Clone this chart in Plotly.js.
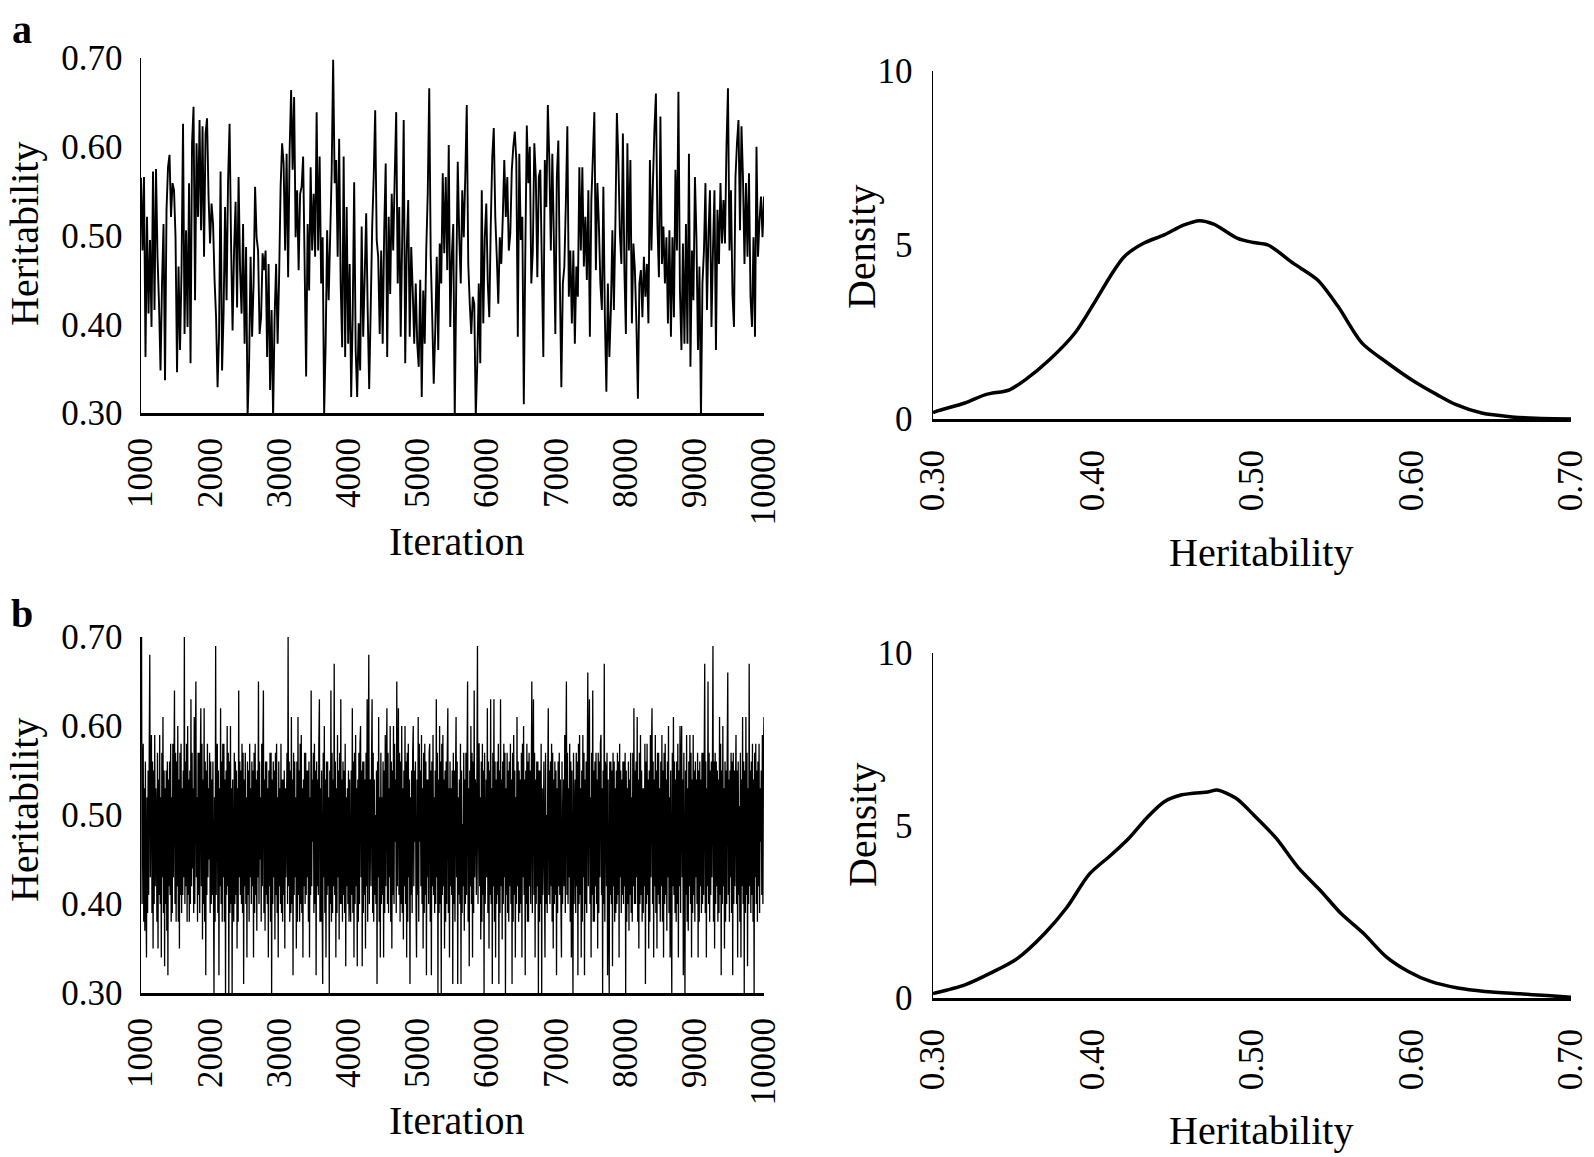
<!DOCTYPE html>
<html>
<head>
<meta charset="utf-8">
<script src="https://cdn.plot.ly/plotly-3.0.1.min.js"></script>
<style>html,body{margin:0;padding:0;background:#fff;}#chart{width:1594px;height:1157px;}</style>
</head>
<body>
<div id="chart"></div>
<script>
// ---- Data ----
const iterTicks = [1000, 2000, 3000, 4000, 5000, 6000, 7000, 8000, 9000, 10000];
const heritTicks = [0.30, 0.40, 0.50, 0.60, 0.70];
const heritTickText = ['0.30', '0.40', '0.50', '0.60', '0.70'];
const densityTicks = [0, 5, 10];
const iterStart = 1000;
const iterEnd = 10000;

// Panel a: MCMC trace of heritability
const traceA = [0.565,0.483,0.566,0.363,0.521,0.412,0.495,0.397,0.572,0.416,0.575,0.476,0.423,0.348,0.446,0.513,0.337,0.529,0.577,0.591,0.521,0.559,0.551,0.498,0.346,0.465,0.371,0.461,0.626,0.389,0.506,0.397,0.559,0.356,0.604,0.645,0.427,0.604,0.521,0.630,0.506,0.623,0.476,0.615,0.632,0.544,0.491,0.536,0.513,0.450,0.408,0.329,0.389,0.572,0.348,0.412,0.532,0.427,0.562,0.626,0.491,0.393,0.483,0.538,0.419,0.566,0.461,0.412,0.513,0.378,0.487,0.295,0.356,0.476,0.386,0.446,0.555,0.498,0.483,0.389,0.408,0.480,0.461,0.483,0.363,0.468,0.326,0.416,0.295,0.408,0.468,0.378,0.453,0.555,0.604,0.581,0.483,0.592,0.453,0.596,0.664,0.574,0.656,0.498,0.551,0.461,0.547,0.555,0.589,0.468,0.341,0.513,0.438,0.577,0.483,0.547,0.476,0.639,0.483,0.589,0.446,0.498,0.299,0.378,0.506,0.427,0.498,0.570,0.698,0.559,
0.585,0.476,0.609,0.446,0.374,0.589,0.363,0.532,0.378,0.468,0.318,0.408,0.560,0.371,0.318,0.401,0.348,0.510,0.386,0.453,0.525,0.416,0.327,0.416,0.510,0.566,0.641,0.495,0.476,0.389,0.483,0.378,0.506,0.581,0.363,0.521,0.434,0.547,0.483,0.566,0.639,0.446,0.532,0.386,0.498,0.630,0.356,0.483,0.540,0.386,0.487,0.438,0.378,0.446,0.378,0.352,0.450,0.318,0.438,0.378,0.483,0.547,0.666,0.476,0.408,0.333,0.393,0.476,0.371,0.491,0.446,0.570,0.480,0.566,0.461,0.602,0.397,0.476,0.513,0.295,0.446,0.583,0.498,0.446,0.551,0.498,0.566,0.647,0.468,0.423,0.389,0.431,0.423,0.295,0.356,0.446,0.356,0.551,0.401,0.498,0.536,0.446,0.408,0.513,0.589,0.621,0.521,0.476,0.423,0.498,0.468,0.521,0.585,0.521,0.566,0.483,0.502,0.574,0.600,0.617,0.585,0.386,0.592,0.495,0.521,0.310,0.480,0.624,0.559,0.600,0.446,0.483,0.604,0.566,0.453,0.566,0.574,0.468,0.363,0.585,0.532,0.647,0.585,
0.483,0.592,0.498,0.389,0.566,0.607,0.450,0.329,0.446,0.465,0.536,0.623,0.431,0.483,0.401,0.483,0.378,0.465,0.431,0.577,0.483,0.577,0.465,0.521,0.450,0.551,0.386,0.540,0.589,0.639,0.461,0.559,0.513,0.446,0.416,0.555,0.408,0.324,0.446,0.363,0.416,0.506,0.416,0.513,0.638,0.585,0.502,0.468,0.615,0.461,0.389,0.604,0.483,0.585,0.401,0.491,0.461,0.401,0.316,0.446,0.461,0.408,0.476,0.431,0.468,0.401,0.585,0.483,0.559,0.619,0.660,0.513,0.453,0.634,0.468,0.510,0.446,0.498,0.401,0.506,0.386,0.498,0.408,0.574,0.483,0.662,0.438,0.371,0.491,0.378,0.513,0.378,0.592,0.352,0.483,0.427,0.566,0.498,0.371,0.465,0.295,0.446,0.483,0.559,0.416,0.502,0.551,0.397,0.483,0.551,0.371,0.529,0.468,0.559,0.491,0.540,0.491,0.600,0.666,0.483,0.551,0.434,0.397,0.566,0.604,0.630,0.506,0.623,0.566,0.468,0.559,0.476,0.570,0.431,0.397,0.498,0.386,0.600,0.476,0.517,0.544,0.498,0.544];

// Panel b: MCMC trace of heritability (spikes, plus the dense core of the band)
const traceB = [0.58,
0.70,0.40,0.55,0.58,0.38,0.53,0.37,0.56,0.42,0.34,0.52,0.39,0.55,0.41,0.57,0.68,0.43,0.54,0.59,0.39,0.56,0.35,0.55,0.40,0.59,0.42,0.53,0.49,0.38,0.57,0.35,0.54,0.41,0.59,0.40,0.52,0.34,0.57,0.43,0.61,0.39,0.55,0.33,0.53,0.40,0.55,0.37,0.56,0.32,0.54,0.42,0.56,0.41,0.58,0.38,0.52,0.39,0.58,0.43,0.55,0.64,0.40,0.57,0.38,0.56,0.42,0.60,0.38,0.54,0.35,0.57,0.41,0.58,0.39,0.53,0.41,0.55,0.43,0.70,0.40,0.56,0.42,0.58,0.38,0.60,0.41,0.54,0.38,0.55,0.40,0.63,0.42,0.57,0.44,0.53,0.39,0.61,0.40,0.56,0.65,0.43,0.52,0.38,0.57,0.41,0.57,0.39,0.55,0.62,0.42,0.58,0.36,0.54,0.40,0.62,0.38,0.56,0.32,0.55,0.41,0.58,0.43,0.53,0.45,0.57,0.39,0.56,0.40,0.54,0.41,0.56,0.42,0.30,0.52,0.38,0.69,0.41,0.57,0.58,0.39,0.55,0.32,0.53,0.42,0.62,0.40,0.56,0.38,0.58,0.43,0.58,0.38,0.54,0.30,0.55,0.41,0.60,0.42,0.57,0.30,0.56,0.39,0.60,0.40,0.53,0.30,0.54,0.42,0.38,0.57,0.40,0.56,0.41,0.55,0.35,0.53,0.38,0.64,0.43,0.56,0.41,0.55,0.40,0.58,0.39,0.57,0.31,0.54,0.42,0.57,0.40,0.52,0.34,0.56,0.41,0.55,0.38,0.58,0.43,0.53,0.40,0.56,0.42,0.55,0.34,0.57,0.39,0.58,0.41,0.54,0.37,0.55,0.43,0.65,0.40,0.56,0.45,0.52,0.38,0.58,0.42,0.57,0.64,0.39,0.54,0.37,0.56,0.41,0.56,0.40,0.53,0.34,0.55,0.42,0.57,0.38,0.57,0.30,0.54,0.40,0.56,0.43,0.55,0.36,0.57,0.41,0.58,0.39,0.52,0.34,0.56,0.42,0.53,0.40,0.58,0.39,0.54,0.38,0.54,0.41,0.55,0.35,0.53,0.43,0.50,0.57,0.40,0.70,0.42,0.56,0.38,0.55,0.39,0.61,0.40,0.54,0.32,0.57,0.41,0.56,0.43,0.52,0.35,0.56,0.38,0.61,0.41,0.55,0.38,0.58,0.40,0.59,0.39,0.53,0.34,0.54,0.42,0.57,0.40,0.57,0.41,0.55,0.43,0.55,0.38,0.56,0.34,0.52,0.41,0.64,0.42,0.54,0.47,0.57,0.39,0.58,0.40,0.55,0.32,0.56,0.42,0.54,0.41,0.58,0.63,0.38,0.53,0.38,0.55,0.40,0.31,0.57,0.43,0.60,0.39,0.54,0.34,0.56,0.41,0.56,0.42,0.52,0.30,0.55,0.40,0.64,0.38,0.57,0.39,0.54,0.42,0.67,0.41,0.56,0.34,0.53,0.39,0.59,0.43,0.55,0.36,0.57,0.40,0.63,0.40,0.54,0.38,0.56,0.41,0.55,0.39,0.58,0.33,0.52,0.42,0.53,0.40,0.55,0.38,0.54,0.41,
0.38,0.55,0.41,0.62,0.39,0.56,0.34,0.57,0.40,0.59,0.42,0.53,0.33,0.54,0.38,0.57,0.40,0.58,0.60,0.43,0.55,0.33,0.56,0.39,0.56,0.41,0.54,0.35,0.57,0.42,0.63,0.38,0.55,0.68,0.40,0.53,0.54,0.42,0.56,0.63,0.39,0.57,0.38,0.54,0.41,0.50,0.40,0.55,0.31,0.56,0.43,0.61,0.38,0.52,0.34,0.57,0.40,0.52,0.41,0.56,0.34,0.55,0.39,0.59,0.42,0.54,0.62,0.40,0.57,0.39,0.53,0.43,0.60,0.38,0.56,0.35,0.55,0.41,0.60,0.40,0.58,0.47,0.54,0.39,0.65,0.42,0.55,0.62,0.41,0.57,0.38,0.56,0.40,0.60,0.39,0.53,0.36,0.55,0.42,0.60,0.40,0.56,0.34,0.57,0.38,0.58,0.43,0.54,0.31,0.52,0.41,0.55,0.39,0.57,0.60,0.42,0.55,0.47,0.56,0.40,0.34,0.54,0.41,0.61,0.38,0.58,0.47,0.55,0.42,0.59,0.40,0.53,0.35,0.57,0.39,0.58,0.41,0.56,0.32,0.54,0.43,0.54,0.40,0.57,0.58,0.38,0.55,0.32,0.56,0.42,0.59,0.41,0.52,0.39,0.55,0.40,0.63,0.43,0.57,0.30,0.54,0.39,0.60,0.40,0.56,0.30,0.58,0.41,0.59,0.42,0.54,0.35,0.55,0.38,0.56,0.40,0.57,0.62,0.39,0.53,0.34,0.56,0.42,0.53,0.41,0.55,0.31,0.57,0.40,0.55,0.38,0.54,0.61,0.43,0.56,0.31,0.52,0.41,0.54,0.40,0.58,0.31,0.55,0.39,0.49,0.42,0.57,0.37,0.54,0.40,0.57,0.41,0.56,0.65,0.38,0.53,0.33,0.55,0.42,0.60,0.40,0.57,0.34,0.56,0.39,0.64,0.43,0.54,0.53,0.41,0.55,0.69,0.40,0.58,0.58,0.42,0.52,0.36,0.56,0.38,0.58,0.41,0.55,0.30,0.57,0.40,0.45,0.54,0.43,0.62,0.39,0.56,0.35,0.55,0.41,0.63,0.40,0.53,0.31,0.57,0.42,0.63,0.38,0.56,0.34,0.54,0.40,0.56,0.41,0.58,0.31,0.55,0.39,0.63,0.42,0.54,0.36,0.56,0.40,0.58,0.43,0.57,0.30,0.53,0.41,0.57,0.39,0.55,0.38,0.56,0.42,0.58,0.40,0.54,0.31,0.57,0.38,0.59,0.41,0.55,0.34,0.52,0.40,0.61,0.42,0.56,0.38,0.55,0.39,0.54,0.40,0.57,0.34,0.58,0.43,0.60,0.41,0.54,0.32,0.55,0.40,0.58,0.38,0.56,0.38,0.57,0.42,0.55,0.40,0.53,0.65,0.39,0.55,0.63,0.41,0.57,0.34,0.54,0.40,0.56,0.42,0.56,0.30,0.55,0.38,0.55,0.40,0.58,0.30,0.53,0.41,0.47,0.56,0.43,0.34,0.57,0.40,0.50,0.39,0.54,0.62,0.41,0.55,0.40,0.56,0.42,0.58,0.38,0.57,0.35,0.54,0.40,0.56,0.41,0.55,0.32,0.53,0.39,0.56,0.42,0.57,0.41,0.54,0.40,
0.34,0.56,0.40,0.45,0.54,0.42,0.59,0.39,0.55,0.65,0.41,0.57,0.40,0.53,0.43,0.58,0.38,0.56,0.34,0.55,0.41,0.30,0.57,0.40,0.48,0.54,0.39,0.57,0.42,0.56,0.32,0.58,0.40,0.59,0.41,0.53,0.34,0.55,0.38,0.59,0.43,0.57,0.32,0.54,0.40,0.56,0.39,0.55,0.66,0.42,0.56,0.63,0.40,0.52,0.34,0.57,0.41,0.64,0.38,0.55,0.38,0.56,0.42,0.57,0.40,0.54,0.35,0.57,0.39,0.56,0.43,0.58,0.59,0.41,0.53,0.30,0.55,0.40,0.67,0.38,0.56,0.55,0.42,0.57,0.32,0.54,0.39,0.30,0.56,0.41,0.56,0.40,0.55,0.33,0.57,0.42,0.56,0.38,0.53,0.39,0.55,0.40,0.57,0.41,0.56,0.34,0.58,0.43,0.55,0.39,0.54,0.41,0.56,0.40,0.56,0.42,0.57,0.30,0.55,0.38,0.53,0.40,0.56,0.37,0.54,0.41,0.57,0.39,0.52,0.38,0.57,0.42,0.62,0.40,0.55,0.40,0.56,0.43,0.61,0.38,0.54,0.35,0.57,0.40,0.59,0.41,0.55,0.38,0.53,0.39,0.53,0.42,0.58,0.31,0.56,0.40,0.58,0.41,0.54,0.35,0.55,0.38,0.59,0.43,0.57,0.62,0.40,0.56,0.34,0.54,0.42,0.59,0.39,0.55,0.35,0.57,0.41,0.57,0.40,0.53,0.38,0.56,0.42,0.59,0.38,0.55,0.34,0.57,0.40,0.58,0.41,0.54,0.37,0.56,0.43,0.60,0.39,0.52,0.34,0.55,0.40,0.30,0.57,0.42,0.61,0.41,0.56,0.39,0.54,0.38,0.56,0.40,0.58,0.34,0.55,0.42,0.60,0.39,0.56,0.60,0.43,0.54,0.32,0.57,0.40,0.30,0.55,0.41,0.59,0.38,0.53,0.37,0.56,0.42,0.59,0.40,0.57,0.34,0.54,0.39,0.59,0.41,0.55,0.38,0.56,0.43,0.54,0.40,0.57,0.34,0.55,0.38,0.56,0.42,0.54,0.39,0.57,0.40,0.57,0.41,0.55,0.67,0.39,0.56,0.34,0.53,0.42,0.65,0.40,0.57,0.38,0.55,0.41,0.56,0.43,0.54,0.69,0.38,0.56,0.35,0.57,0.40,0.56,0.42,0.55,0.38,0.54,0.39,0.61,0.41,0.58,0.32,0.55,0.40,0.60,0.42,0.53,0.35,0.56,0.38,0.55,0.40,0.57,0.66,0.41,0.54,0.38,0.55,0.43,0.57,0.39,0.56,0.32,0.57,0.40,0.55,0.42,0.53,0.59,0.40,0.55,0.34,0.56,0.41,0.51,0.38,0.57,0.34,0.54,0.42,0.61,0.40,0.56,0.30,0.55,0.39,0.61,0.41,0.57,0.33,0.53,0.40,0.67,0.42,0.55,0.39,0.56,0.41,0.58,0.38,0.54,0.30,0.57,0.43,0.58,0.40,0.55,0.38,0.56,0.42,0.58,0.39,0.53,0.47,0.55,0.41,0.59,0.40,0.57,0.61];

// Posterior density curves
const densAx = [0.300,0.302,0.320,0.333,0.348,0.358,0.373,0.389,0.401,0.411,0.420,0.432,0.445,0.457,0.467,0.476,0.491,0.501,0.510,0.526,0.541,0.554,0.569,0.585,0.600,0.616,0.628,0.644,0.663,0.678,0.700];
const densAy = [0.18,0.22,0.46,0.70,0.84,1.13,1.70,2.47,3.33,4.09,4.67,5.05,5.29,5.57,5.70,5.60,5.19,5.07,5.00,4.47,4.00,3.23,2.18,1.61,1.13,0.70,0.41,0.17,0.06,0.02,0.00];
const densBx = [0.300,0.301,0.320,0.336,0.353,0.370,0.384,0.398,0.412,0.423,0.434,0.445,0.456,0.473,0.478,0.490,0.501,0.515,0.529,0.543,0.556,0.570,0.584,0.598,0.612,0.629,0.646,0.668,0.685,0.700];
const densBy = [0.13,0.14,0.38,0.72,1.15,1.87,2.63,3.59,4.16,4.64,5.22,5.69,5.89,5.98,6.03,5.79,5.31,4.64,3.78,3.11,2.44,1.87,1.20,0.77,0.48,0.29,0.19,0.12,0.07,0.02];

// ---- Chart ----
const W = 1594, H = 1157;
const px = v => v / W;
const py = v => 1 - v / H;
const FONT = 'Liberation Serif, Times New Roman, serif';

const iterOf = arr => arr.map((_, i) => iterStart + i * (iterEnd - iterStart) / (arr.length - 1));

const data = [
  {x: iterOf(traceA), y: traceA, type: 'scatter', mode: 'lines', line: {color: '#000', width: 1.9, simplify: false}, xaxis: 'x', yaxis: 'y', hoverinfo: 'skip'},
  {x: densAx, y: densAy, type: 'scatter', mode: 'lines', line: {color: '#000', width: 3.5, shape: 'spline', smoothing: 0.8}, xaxis: 'x2', yaxis: 'y2', hoverinfo: 'skip'},
  {x: iterOf(traceB), y: traceB, type: 'scatter', mode: 'lines', line: {color: '#000', width: 1.3, simplify: false}, xaxis: 'x3', yaxis: 'y3', hoverinfo: 'skip'},
  {x: densBx, y: densBy, type: 'scatter', mode: 'lines', line: {color: '#000', width: 3.5, shape: 'spline', smoothing: 0.8}, xaxis: 'x4', yaxis: 'y4', hoverinfo: 'skip'}
];

const tf = {family: FONT, size: 35, color: '#000'};
function xTrace(anchor) {
  return {domain: [px(141), px(764)], range: [iterStart, iterEnd], tickvals: iterTicks, ticktext: iterTicks.map(String),
    tickangle: -90, showline: true, linewidth: 3, linecolor: '#000', showgrid: false, zeroline: false, ticks: '',
    tickfont: tf, ticklabelstandoff: 8, anchor: anchor, fixedrange: true};
}
function yTrace(top, bottom, anchor) {
  return {domain: [py(bottom), py(top)], range: [0.30, 0.70], tickvals: heritTicks, ticktext: heritTickText,
    showline: true, linewidth: 1.5, linecolor: '#000', showgrid: false, zeroline: false, ticks: '',
    tickfont: tf, ticklabelstandoff: 10, anchor: anchor, fixedrange: true};
}
function xDens(anchor) {
  return {domain: [px(933), px(1571)], range: [0.30, 0.70], tickvals: heritTicks, ticktext: heritTickText,
    tickangle: -90, showline: true, linewidth: 3, linecolor: '#000', showgrid: false, zeroline: false, ticks: '',
    tickfont: tf, ticklabelstandoff: 14, anchor: anchor, fixedrange: true};
}
function yDens(top, bottom, anchor) {
  return {domain: [py(bottom), py(top)], range: [0, 10], tickvals: densityTicks, ticktext: densityTicks.map(String),
    showline: true, linewidth: 1.5, linecolor: '#000', showgrid: false, zeroline: false, ticks: '',
    tickfont: tf, ticklabelstandoff: 12, anchor: anchor, fixedrange: true};
}

const tfont = {family: FONT, size: 40, color: '#000'};
function ann(text, x, y, angle, extra) {
  return Object.assign({text: text, x: px(x), y: py(y), xref: 'paper', yref: 'paper', xanchor: 'center', yanchor: 'middle',
    showarrow: false, textangle: angle, font: tfont}, extra || {});
}

const layout = {
  width: W, height: H, margin: {l: 0, r: 0, t: 0, b: 0}, paper_bgcolor: '#fff', plot_bgcolor: '#fff', showlegend: false,
  xaxis: xTrace('y'), yaxis: yTrace(58, 413, 'x'),
  xaxis2: xDens('y2'), yaxis2: yDens(71, 419, 'x2'),
  xaxis3: xTrace('y3'), yaxis3: yTrace(637, 993, 'x3'),
  xaxis4: xDens('y4'), yaxis4: yDens(653, 998, 'x4'),
  annotations: [
    ann('<b>a</b>', 22, 30, 0, {font: {family: FONT, size: 40, color: '#000'}}),
    ann('<b>b</b>', 22, 613, 0, {font: {family: FONT, size: 40, color: '#000'}}),
    ann('Heritability', 24, 234, -90),
    ann('Iteration', 457, 541, 0),
    ann('Density', 862, 247, -90),
    ann('Heritability', 1261, 552, 0),
    ann('Heritability', 24, 810, -90),
    ann('Iteration', 457, 1120, 0),
    ann('Density', 862, 825, -90),
    ann('Heritability', 1261, 1130, 0)
  ]
};

Plotly.newPlot('chart', data, layout, {displayModeBar: false, staticPlot: true});
</script>
</body>
</html>
